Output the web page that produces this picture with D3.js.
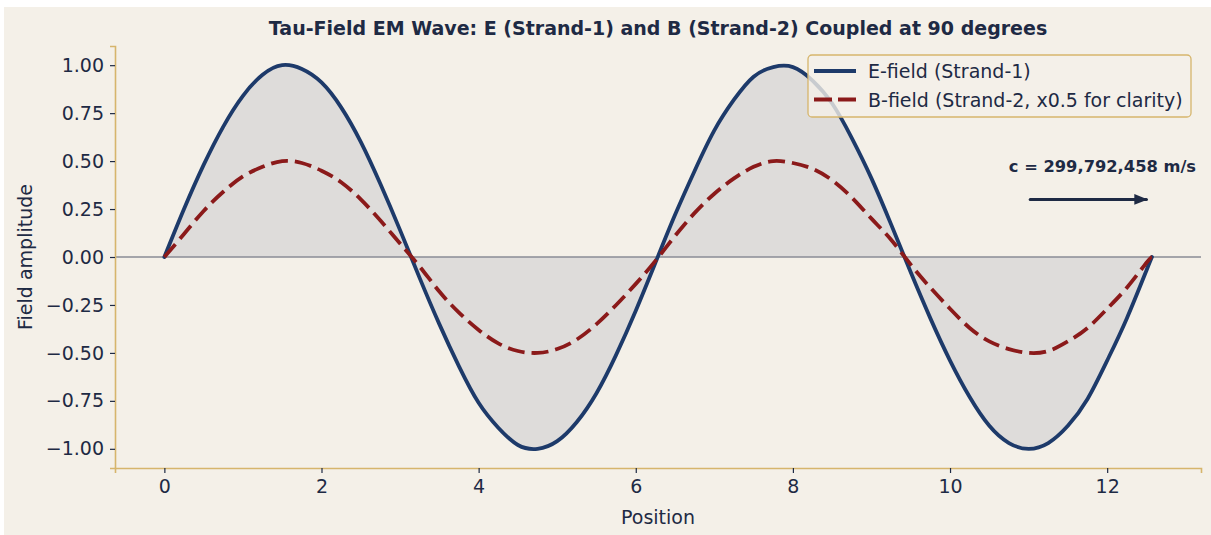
<!DOCTYPE html>
<html>
<head>
<meta charset="utf-8">
<script src="https://cdn.jsdelivr.net/npm/d3@7"></script>
<style>
  body { margin: 0; background: #ffffff; }
  text { font-family: "DejaVu Sans", sans-serif; fill: #1e2a44; }
</style>
</head>
<body>
<div id="chart"></div>
<script>
///////////////////// DATA /////////////////////
let positions = [0, 0.25, 0.5, 0.75, 1, 1.25, 1.5, 1.75, 2, 2.25, 2.5, 2.75, 3, 3.25, 3.5, 3.75,
  4, 4.25, 4.5, 4.75, 5, 5.25, 5.5, 5.75, 6, 6.25, 6.5, 6.75, 7, 7.25, 7.5, 7.75,
  8, 8.25, 8.5, 8.75, 9, 9.25, 9.5, 9.75, 10, 10.25, 10.5, 10.75, 11, 11.25, 11.5, 11.75,
  12, 12.25, 12.5, 12.57];
let e_field = [0, 0.25, 0.48, 0.68, 0.84, 0.95, 1.00, 0.98, 0.91, 0.78, 0.60, 0.38, 0.14, -0.11, -0.35, -0.57,
  -0.76, -0.89, -0.98, -1.00, -0.96, -0.86, -0.71, -0.51, -0.28, -0.03, 0.22, 0.45, 0.66, 0.82, 0.94, 0.99,
  0.99, 0.92, 0.80, 0.62, 0.41, 0.17, -0.08, -0.32, -0.54, -0.73, -0.88, -0.97, -1.00, -0.97, -0.88, -0.74,
  -0.54, -0.32, -0.07, 0.00];
let b_field = [0, 0.12, 0.24, 0.34, 0.42, 0.47, 0.50, 0.49, 0.45, 0.39, 0.30, 0.19, 0.07, -0.05, -0.18, -0.29,
  -0.38, -0.45, -0.49, -0.50, -0.48, -0.43, -0.35, -0.25, -0.14, -0.02, 0.11, 0.23, 0.33, 0.41, 0.47, 0.50,
  0.49, 0.46, 0.40, 0.31, 0.20, 0.09, -0.04, -0.16, -0.27, -0.37, -0.44, -0.48, -0.50, -0.49, -0.44, -0.37,
  -0.27, -0.16, -0.03, 0.00];
let x_ticks = [0, 2, 4, 6, 8, 10, 12];
let y_ticks = [-1, -0.75, -0.5, -0.25, 0, 0.25, 0.5, 0.75, 1];
let legend_labels = ["E-field (Strand-1)", "B-field (Strand-2, x0.5 for clarity)"];
let title_text = "Tau-Field EM Wave: E (Strand-1) and B (Strand-2) Coupled at 90 degrees";
let speed_label = "c = 299,792,458 m/s";
let arrow_from = {x: 11.02, y: 0.30}, arrow_to = {x: 12.5, y: 0.30};
let label_at = {x: 11.94, y: 0.445};

///////////////////// LAYOUT /////////////////////
let W = 1211, H = 535;
let margin = {top: 46, right: 10, bottom: 68, left: 115},
    width = 1201 - margin.left,
    height = 468 - margin.top;

let navy = "#1d3a6a", red = "#8b1a1a", gold = "#d6b56c", ink = "#1e2a44";
let dash = "17,7";

let svg = d3.select("#chart").append("svg")
    .attr("width", W).attr("height", H);

svg.append("rect")
    .attr("x", 4).attr("y", 7).attr("width", W - 4).attr("height", H - 7)
    .attr("fill", "#f4f0e8");

let g = svg.append("g")
    .attr("transform", "translate(" + margin.left + "," + margin.top + ")");

let span = 12.566;
let x_scale = d3.scaleLinear().domain([-0.05 * span, span * 1.05]).range([0, width]);
let y_scale = d3.scaleLinear().domain([-1.1, 1.1]).range([height, 0]);

let pts = positions.map((p, i) => ({x: p, e: e_field[i], b: b_field[i]}));
let curve = d3.curveNatural;

// shaded area between E and zero
g.append("path")
    .datum(pts)
    .attr("fill", "#dedcda")
    .attr("d", d3.area().curve(curve)
        .x(d => x_scale(d.x)).y0(y_scale(0)).y1(d => y_scale(d.e)));

// zero line
g.append("line")
    .attr("x1", 0).attr("x2", width)
    .attr("y1", y_scale(0)).attr("y2", y_scale(0))
    .attr("stroke", "#8a8d96").attr("stroke-width", 1.3);

g.append("path")
    .datum(pts)
    .attr("fill", "none").attr("stroke", navy).attr("stroke-width", 3.8)
    .attr("stroke-linecap", "round")
    .attr("d", d3.line().curve(curve).x(d => x_scale(d.x)).y(d => y_scale(d.e)));

g.append("path")
    .datum(pts)
    .attr("fill", "none").attr("stroke", red).attr("stroke-width", 3.8)
    .attr("stroke-dasharray", dash)
    .attr("d", d3.line().curve(curve).x(d => x_scale(d.x)).y(d => y_scale(d.b)));

// axes
let x_axis = g.append("g")
    .attr("transform", "translate(0," + height + ")")
    .call(d3.axisBottom(x_scale).tickValues(x_ticks).tickSize(5).tickPadding(7).tickFormat(d3.format("d")));
let y_axis = g.append("g")
    .call(d3.axisLeft(y_scale).tickValues(y_ticks).tickSize(5).tickPadding(6)
        .tickFormat(d => d3.format(".2f")(d).replace("-", "\u2212")));

[x_axis, y_axis].forEach(a => {
    a.select(".domain").attr("stroke", gold).attr("stroke-width", 1.6);
    a.selectAll(".tick line").attr("stroke", ink).attr("stroke-width", 1.2);
    a.selectAll(".tick text").style("font-size", "19px").attr("fill", ink)
        .style("font-family", "DejaVu Sans, sans-serif");
});

// labels
svg.append("text")
    .attr("x", margin.left + x_scale(span / 2)).attr("y", 35)
    .attr("text-anchor", "middle").style("font-size", "19px").style("font-weight", "bold")
    .text(title_text);

svg.append("text")
    .attr("x", margin.left + width / 2).attr("y", 524)
    .attr("text-anchor", "middle").style("font-size", "19px")
    .text("Position");

svg.append("text")
    .attr("transform", "translate(32," + (margin.top + y_scale(0)) + ") rotate(-90)")
    .attr("text-anchor", "middle").style("font-size", "19px")
    .text("Field amplitude");

// speed annotation
g.append("defs").append("marker")
    .attr("id", "head").attr("viewBox", "0 0 10 10").attr("refX", 9).attr("refY", 5)
    .attr("markerWidth", 4.5).attr("markerHeight", 4.5).attr("orient", "auto")
    .append("path").attr("d", "M0,1 L10,5 L0,9 Z").attr("fill", ink);

g.append("line")
    .attr("x1", x_scale(arrow_from.x)).attr("y1", y_scale(arrow_from.y))
    .attr("x2", x_scale(arrow_to.x)).attr("y2", y_scale(arrow_to.y))
    .attr("stroke", ink).attr("stroke-width", 3).attr("stroke-linecap", "round")
    .attr("marker-end", "url(#head)");

g.append("text")
    .attr("x", x_scale(label_at.x)).attr("y", y_scale(label_at.y))
    .attr("text-anchor", "middle").style("font-size", "16.3px").style("font-weight", "bold")
    .text(speed_label);

// legend
let lg = svg.append("g").attr("transform", "translate(808,55)");
lg.append("rect")
    .attr("width", 383).attr("height", 62).attr("rx", 4)
    .attr("fill", "#f4f0e8").attr("fill-opacity", 0.8)
    .attr("stroke", gold).attr("stroke-width", 1.3);

let styles = [{c: navy, dash: null}, {c: red, dash: "18,6"}];
legend_labels.forEach((lab, i) => {
    let yy = 16 + i * 28.5;
    lg.append("line")
        .attr("x1", 6).attr("x2", 48).attr("y1", yy).attr("y2", yy)
        .attr("stroke", styles[i].c).attr("stroke-width", 3.8)
        .attr("stroke-dasharray", styles[i].dash);
    lg.append("text")
        .attr("x", 60).attr("y", yy + 7)
        .style("font-size", "19px")
        .text(lab);
});
</script>
</body>
</html>
